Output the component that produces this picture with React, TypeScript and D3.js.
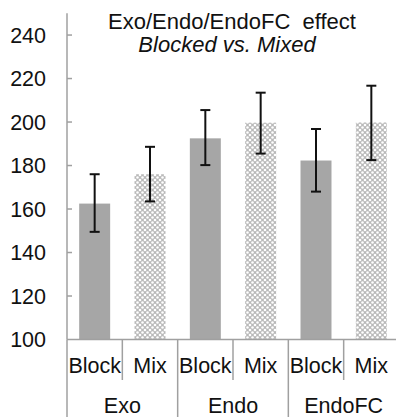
import React from 'react';
import * as d3 from 'd3';

// Values
const groups = ['Exo', 'Endo', 'EndoFC'];
const conditions = ['Block', 'Mix'];
const means = [162.5, 176, 192.5, 199.7, 182.3, 199.8];
const errLow = [149.5, 163.5, 180.2, 185.5, 168, 182.5];
const errHigh = [176, 188.6, 205.5, 213.5, 196.8, 216.7];
const yTicks = [100, 120, 140, 160, 180, 200, 220, 240];

const W = 396;
const H = 417;
const FONT = "'Liberation Sans', Arial, sans-serif";

export default function App() {
  const slots = groups.flatMap((g) => conditions.map((c) => `${g}|${c}`));

  const x = d3.scaleBand<string>()
    .domain(slots)
    .range([67, 399])
    .paddingInner(0.44)
    .paddingOuter(0.22);

  const y = d3.scaleLinear().domain([100, 250]).range([339.5, 13.3]);

  const step = x.step();
  const axisColor = '#a0a0a0';

  return (
    <svg
      width={W}
      height={H}
      style={{ position: 'absolute', left: 0, top: 0, background: '#fff' }}
      fontFamily={FONT}
    >
      <defs>
        <pattern id="checker" width={5} height={5} patternUnits="userSpaceOnUse">
          <rect width={5} height={5} fill="#b9b9b9" />
          <circle cx={0} cy={0} r={1.3} fill="#fff" />
          <circle cx={5} cy={0} r={1.3} fill="#fff" />
          <circle cx={0} cy={5} r={1.3} fill="#fff" />
          <circle cx={5} cy={5} r={1.3} fill="#fff" />
          <circle cx={2.5} cy={2.5} r={1.3} fill="#fff" />
        </pattern>
      </defs>

      {/* title */}
      <text x={232} y={29} textAnchor="middle" fontSize={22} fill="#111" style={{ whiteSpace: 'pre' }}>
        {'Exo/Endo/EndoFC  effect'}
      </text>
      <text x={227} y={52} textAnchor="middle" fontSize={22} fontStyle="italic" fill="#111">
        Blocked vs. Mixed
      </text>

      {/* bars */}
      {slots.map((s, i) => (
        <rect
          key={s}
          x={x(s)}
          y={y(means[i])}
          width={x.bandwidth()}
          height={y(100) - y(means[i])}
          fill={i % 2 === 0 ? '#a6a6a6' : 'url(#checker)'}
        />
      ))}

      {/* error bars */}
      {slots.map((s, i) => {
        const cx = (x(s) as number) + x.bandwidth() / 2;
        return (
          <g key={`e${s}`} stroke="#111" strokeWidth={2}>
            <line x1={cx} x2={cx} y1={y(errLow[i])} y2={y(errHigh[i])} />
            <line x1={cx - 5} x2={cx + 5} y1={y(errLow[i])} y2={y(errLow[i])} />
            <line x1={cx - 5} x2={cx + 5} y1={y(errHigh[i])} y2={y(errHigh[i])} />
          </g>
        );
      })}

      {/* y axis */}
      <line x1={67} x2={67} y1={y(250)} y2={y(100)} stroke={axisColor} strokeWidth={1.5} />
      {yTicks.map((t) => (
        <g key={t}>
          {t > 100 && (
            <line x1={67} x2={72} y1={y(t)} y2={y(t)} stroke={axisColor} strokeWidth={1.5} />
          )}
          <text x={46} y={y(t) + 7.5} textAnchor="end" fontSize={21.5} fill="#111">
            {t}
          </text>
        </g>
      ))}

      {/* x axis */}
      <line x1={67} x2={399} y1={y(100)} y2={y(100)} stroke={axisColor} strokeWidth={1.5} />
      {slots.map((s, i) => {
        const left = (x(s) as number) - step * 0.22;
        const full = i % 2 === 0;
        return (
          <line
            key={`d${s}`}
            x1={left}
            x2={left}
            y1={y(100)}
            y2={full ? H : 380}
            stroke={axisColor}
            strokeWidth={1.5}
          />
        );
      })}
      <line x1={399} x2={399} y1={y(100)} y2={H} stroke={axisColor} strokeWidth={1.5} />

      {slots.map((s) => (
        <text
          key={`l${s}`}
          x={(x(s) as number) + x.bandwidth() / 2}
          y={373}
          textAnchor="middle"
          fontSize={21.5}
          fill="#111"
        >
          {s.split('|')[1]}
        </text>
      ))}
      {groups.map((g) => {
        const a = x(`${g}|Block`) as number;
        const b = x(`${g}|Mix`) as number;
        return (
          <text
            key={`g${g}`}
            x={(a + b + x.bandwidth()) / 2}
            y={413}
            textAnchor="middle"
            fontSize={21.5}
            fill="#111"
          >
            {g}
          </text>
        );
      })}
    </svg>
  );
}
